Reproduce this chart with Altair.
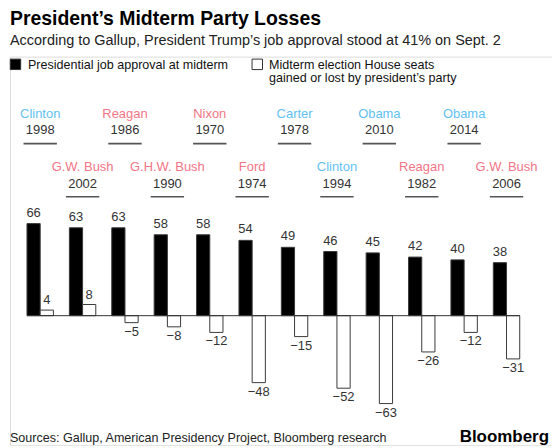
import altair as alt
import pandas as pd

# ---- data ----
presidents = ["Clinton", "G.W. Bush", "Reagan", "G.H.W. Bush", "Nixon", "Ford",
              "Carter", "Clinton", "Obama", "Reagan", "Obama", "G.W. Bush"]
years = ["1998", "2002", "1986", "1990", "1970", "1974",
         "1978", "1994", "2010", "1982", "2014", "2006"]
parties = ["D", "R", "R", "R", "R", "R", "D", "D", "D", "R", "D", "R"]
approval = [66, 63, 63, 58, 58, 54, 49, 46, 45, 42, 40, 38]
seats = [4, 8, -5, -8, -12, -48, -15, -52, -63, -26, -12, -31]
series_names = ["Presidential job approval at midterm",
                "Midterm election House seats gained or lost by president\u2019s party"]
legend_labels = ["Presidential job approval at midterm",
                 "Midterm election House seats\ngained or lost by president\u2019s party"]
source_text = ["Sources: Gallup, American Presidency Project, Bloomberg research"]
brand_text = ["Bloomberg"]

# ---- tables ----
groups = pd.DataFrame({
    "year": years, "president": presidents, "party": parties,
    "row": [i % 2 for i in range(len(years))],
})
bars = pd.DataFrame({
    "year": years * 2,
    "series": [series_names[0]] * len(years) + [series_names[1]] * len(years),
    "value": approval + seats,
})
legend_df = pd.DataFrame({"series": series_names, "label": legend_labels})

# ---- layout ----
FONT = "Liberation Sans"
BLUE = "#62c1f1"
PINK = "#f27585"
W = 544
Y0 = 56            # page y of plot top (page margin 8 + title block)
BOTTOM = 446       # page y of plot bottom
H = BOTTOM - Y0
PX_PER_UNIT = 1.40
ZERO_PAGE = 316
ymin = -(BOTTOM - ZERO_PAGE) / PX_PER_UNIT
ymax = (ZERO_PAGE - Y0) / PX_PER_UNIT

STEP_PAD_INNER = 0.377
STEP_PAD_OUTER = 0.581
ALIGN = 0.345
step = W / (len(years) - STEP_PAD_INNER + 2 * STEP_PAD_OUTER)
x_start = ALIGN * 2 * STEP_PAD_OUTER * step
x_end = x_start + len(years) * step - STEP_PAD_INNER * step


def py(page_y):
    return page_y - Y0


def px(page_x):
    return page_x - 8


x_enc = alt.X("year:N", sort=years, axis=None,
              scale=alt.Scale(paddingInner=STEP_PAD_INNER,
                              paddingOuter=STEP_PAD_OUTER, align=ALIGN))
xoff_enc = alt.XOffset("series:N", sort=series_names,
                       scale=alt.Scale(domain=series_names, paddingInner=0, paddingOuter=0))
y_enc = alt.Y("value:Q", axis=None,
              scale=alt.Scale(domain=[ymin, ymax], nice=False, zero=False))
fill_enc = alt.Fill("series:N", sort=series_names, legend=None,
                    scale=alt.Scale(domain=series_names, range=["#000000", "#ffffff"]))

bar_layer = alt.Chart(bars).mark_bar(stroke="#3a3a3a", strokeWidth=1).encode(
    x=x_enc, xOffset=xoff_enc, y=y_enc, fill=fill_enc)

zero_rule = alt.Chart(pd.DataFrame({"v": [0]})).mark_rule(color="#333", strokeWidth=1).encode(
    y=alt.Y("v:Q", scale=alt.Scale(domain=[ymin, ymax], nice=False, zero=False), axis=None),
    x=alt.value(x_start), x2=alt.value(x_end))

lbl_calc = "datum.value < 0 ? '\u2212' + abs(datum.value) : '' + datum.value"
txt = dict(font=FONT, fontSize=13, color="#333")
labels_base = alt.Chart(bars).transform_calculate(lbl=lbl_calc)
appr_labels = labels_base.transform_filter(
    alt.datum.series == series_names[0]).mark_text(dy=-7, baseline="alphabetic", **txt).encode(
    x=x_enc, xOffset=xoff_enc, y=y_enc, text="lbl:N")
pos_labels = labels_base.transform_filter(
    (alt.datum.series == series_names[1]) & (alt.datum.value >= 0)).mark_text(
    dy=-6, baseline="alphabetic", **txt).encode(
    x=x_enc, xOffset=xoff_enc, y=y_enc, text="lbl:N")
neg_labels = labels_base.transform_filter(
    (alt.datum.series == series_names[1]) & (alt.datum.value < 0)).mark_text(
    dy=3, baseline="top", **txt).encode(
    x=x_enc, xOffset=xoff_enc, y=y_enc, text="lbl:N")

name_color = alt.condition(alt.datum.party == "D", alt.value(BLUE), alt.value(PINK))


def row_layers(row, name_y, year_y, line_y):
    base = alt.Chart(groups).transform_filter(alt.datum.row == row)
    names = base.mark_text(font=FONT, fontSize=13, baseline="alphabetic").encode(
        x=x_enc, y=alt.value(py(name_y)), text="president:N", color=name_color)
    yrs = base.mark_text(font=FONT, fontSize=13, baseline="alphabetic", color="#333").encode(
        x=x_enc, y=alt.value(py(year_y)), text="year:N")
    lines = base.mark_bar(width=33.5, color="#555").encode(
        x=x_enc, y=alt.value(py(line_y - 0.8)), y2=alt.value(py(line_y + 0.8)))
    return [names, yrs, lines]


top_row = row_layers(0, 118, 134, 143.3)
bottom_row = row_layers(1, 170.7, 188, 196.7)


# legend (key) drawn with the same fill scale as the bars
def key_layers(i, sym_x, label_x):
    base = alt.Chart(legend_df).transform_filter(alt.datum.series == series_names[i])
    sym = base.mark_point(shape="square", filled=True, size=110, stroke="#333",
                          strokeWidth=1, opacity=1).encode(
        x=alt.value(px(sym_x)), y=alt.value(py(63.75)), fill=fill_enc)
    lab = base.mark_text(font=FONT, fontSize=12.6, color="#111", align="left",
                         baseline="alphabetic", lineBreak="\n", lineHeight=13).encode(
        x=alt.value(px(label_x)), y=alt.value(py(68.7)), text="label:N")
    return [sym, lab]


key1 = key_layers(0, 13.5, 26)
key2 = key_layers(1, 256.2, 268)

source = alt.Chart(pd.DataFrame({"t": source_text})).mark_text(
    font=FONT, fontSize=12.6, color="#222", align="left", baseline="alphabetic").encode(
    x=alt.value(0), y=alt.value(py(442.5)), text="t:N")
brand = alt.Chart(pd.DataFrame({"t": brand_text})).mark_text(
    font=FONT, fontSize=17, fontWeight="bold", color="#000", align="right",
    baseline="alphabetic").encode(
    x=alt.value(W - 3), y=alt.value(py(442.5)), text="t:N")

chart = alt.layer(
    bar_layer, zero_rule, appr_labels, pos_labels, neg_labels,
    *top_row, *bottom_row, *key1, *key2, source, brand,
).properties(
    width=W, height=H,
    padding={"left": 0, "top": 0, "right": 0, "bottom": 0},
    title=alt.TitleParams(
        text="President\u2019s Midterm Party Losses",
        subtitle="According to Gallup, President Trump\u2019s job approval stood at 41% on Sept. 2",
        anchor="start", frame="group", font=FONT, fontSize=19.5, fontWeight="bold",
        color="#000", subtitleFont=FONT, subtitleFontSize=14.5, subtitleColor="#222",
        subtitlePadding=5, offset=8,
    ),
).configure_view(stroke=None).configure(background="white")

chart.save("out.html", embed_options={"renderer": "svg", "actions": False})
